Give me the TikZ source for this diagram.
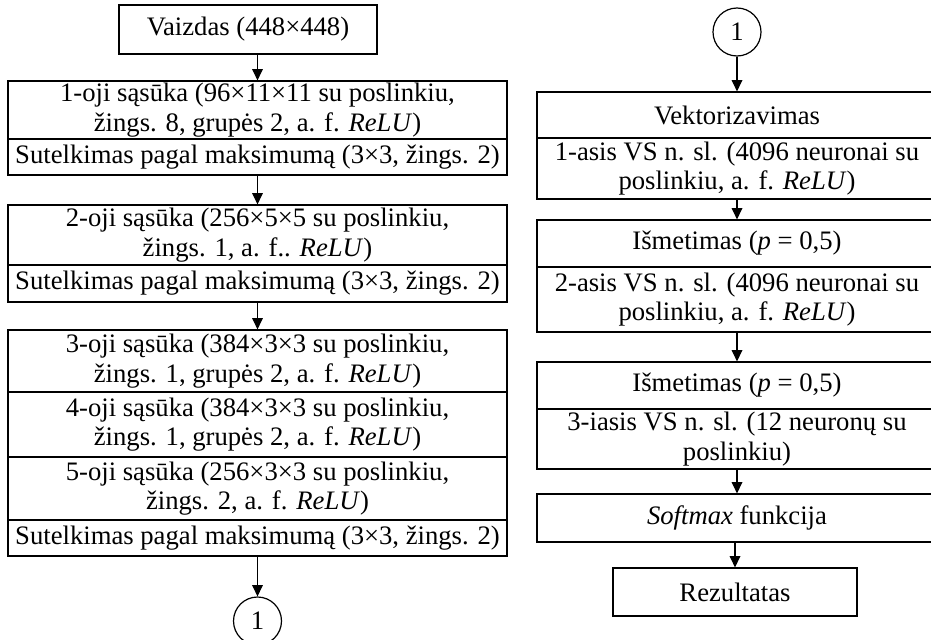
\documentclass[tikz,border=0pt]{standalone}
\usepackage{fontspec}
\setmainfont{Liberation Serif}
\usetikzlibrary{arrows.meta}
\newdimen\pxu \pxu=0.75pt
\begin{document}
\begin{tikzpicture}[x=0.75pt, y=-0.75pt,
  cell/.style={draw, line width=0.9pt, rectangle, inner sep=0pt, align=center,
    font=\fontsize{20pt}{22pt}\selectfont},
  lcell/.style={cell, minimum width=499\pxu},
  rcell/.style={cell, minimum width=400\pxu},
  conn/.style={draw, circle, line width=0.9pt, inner sep=0pt, minimum size=48\pxu,
    font=\fontsize{20pt}{22pt}\selectfont},
  arr/.style={line width=0.9pt, -{Triangle[length=8.5pt, width=8pt]}}]
\useasboundingbox (0,0) rectangle (931,639);
\clip (0,0) rectangle (931,639);

% left column: convolutional part
\node[cell, minimum width=258\pxu, minimum height=49\pxu] (img) at (248,29.5) {Vaizdas (448×448)};
\node[lcell, minimum height=58\pxu] (c1) at (257.5,110) {1-oji sąsūka (96×11×11 su poslinkiu,\\ žings. 8, grupės 2, a. f. \textit{ReLU})};
\node[lcell, minimum height=36\pxu] (p1) at (257.5,157) {Sutelkimas pagal maksimumą (3×3, žings. 2)};
\node[lcell, minimum height=60\pxu] (c2) at (257.5,235) {2-oji sąsūka (256×5×5 su poslinkiu,\\ žings. 1, a. f.. \textit{ReLU})};
\node[lcell, minimum height=37\pxu] (p2) at (257.5,283.5) {Sutelkimas pagal maksimumą (3×3, žings. 2)};
\node[lcell, minimum height=62\pxu] (c3) at (257.5,361) {3-oji sąsūka (384×3×3 su poslinkiu,\\ žings. 1, grupės 2, a. f. \textit{ReLU})};
\node[lcell, minimum height=65\pxu] (c4) at (257.5,424.5) {4-oji sąsūka (384×3×3 su poslinkiu,\\ žings. 1, grupės 2, a. f. \textit{ReLU})};
\node[lcell, minimum height=63\pxu] (c5) at (257.5,488.5) {5-oji sąsūka (256×3×3 su poslinkiu,\\ žings. 2, a. f. \textit{ReLU})};
\node[lcell, minimum height=36\pxu] (p3) at (257.5,538) {Sutelkimas pagal maksimumą (3×3, žings. 2)};
\node[conn] (outA) at (257.5,621) {1};

% right column: fully connected part
\node[conn] (inB) at (737,32) {1};
\node[rcell, minimum height=46\pxu] (vec) at (737,115) {Vektorizavimas};
\node[rcell, minimum height=61\pxu] (f1) at (737,168.5) {1-asis VS n. sl. (4096 neuronai su\\ poslinkiu, a. f. \textit{ReLU})};
\node[rcell, minimum height=47\pxu] (d1) at (737,243.5) {Išmetimas (\textit{p} = 0,5)};
\node[rcell, minimum height=65\pxu] (f2) at (737,299.5) {2-asis VS n. sl. (4096 neuronai su\\ poslinkiu, a. f. \textit{ReLU})};
\node[rcell, minimum height=47\pxu] (d2) at (737,385.5) {Išmetimas (\textit{p} = 0,5)};
\node[rcell, minimum height=60\pxu] (f3) at (737,439) {3-iasis VS n. sl. (12 neuronų su\\ poslinkiu)};
\node[rcell, minimum height=48\pxu] (sm) at (737,518) {\textit{Softmax} funkcija};
\node[cell, minimum width=244\pxu, minimum height=48\pxu] (res) at (735,592) {Rezultatas};

% connectors
\draw[arr] (img.south -| c1.north) -- (c1.north);
\draw[arr] (p1.south) -- (c2.north);
\draw[arr] (p2.south) -- (c3.north);
\draw[arr] (p3.south) -- (outA.north);
\draw[arr] (inB.south) -- (vec.north);
\draw[arr] (f1.south) -- (d1.north);
\draw[arr] (f2.south) -- (d2.north);
\draw[arr] (f3.south) -- (sm.north);
\draw[arr] (res.north |- sm.south) -- (res.north);
\end{tikzpicture}
\end{document}
